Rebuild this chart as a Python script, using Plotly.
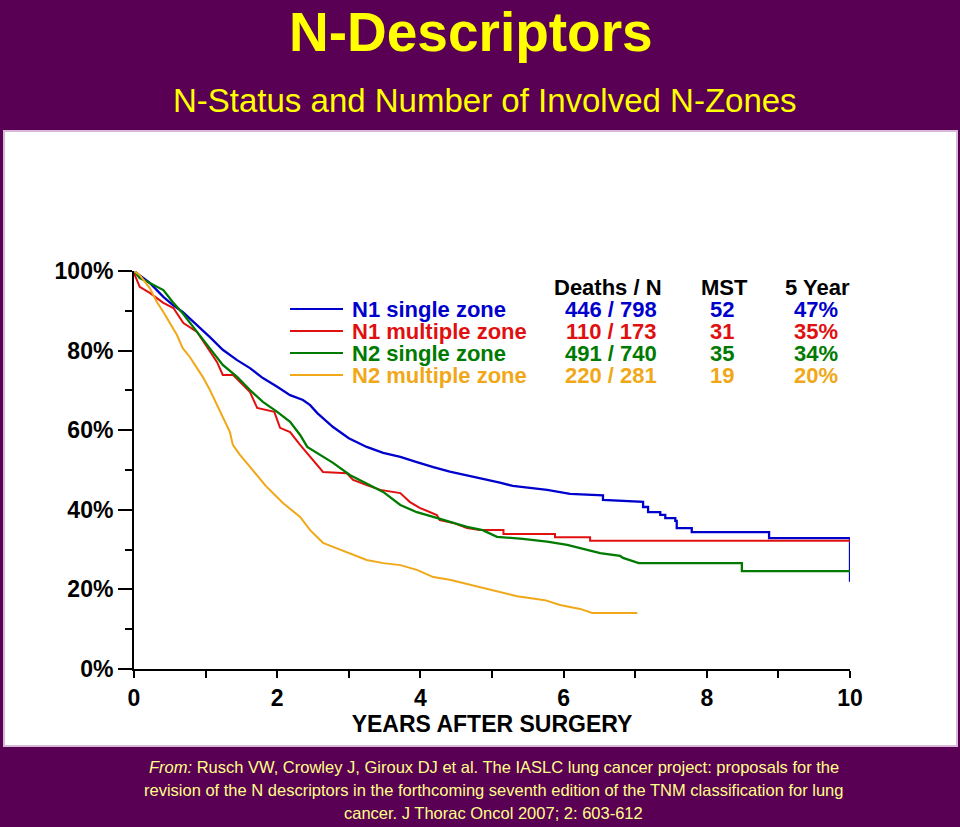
import plotly.graph_objects as go

# ---------------- data ----------------
years_n1_single = [0, 0.22, 0.41, 0.54, 0.68, 0.88, 1.06, 1.24, 1.44, 1.62, 1.80, 2.00, 2.18, 2.36, 2.46,
                   2.56, 2.78, 3.00, 3.25, 3.48, 3.72, 3.95, 4.18, 4.41, 4.65, 4.88, 5.11, 5.29, 5.50,
                   5.77, 6.09, 6.55, 6.55, 6.97, 7.11, 7.11, 7.18, 7.18, 7.35, 7.35, 7.42, 7.42, 7.56,
                   7.56, 7.58, 7.58, 7.79, 7.79, 8.87, 8.87, 10.0, 10.0]
surv_n1_single = [100, 97, 93.5, 91.5, 89.7, 86.5, 83.4, 80.2, 77.6, 75.6, 73.1, 70.9, 68.8, 67.6, 66.3,
                  64.3, 60.8, 58.0, 55.8, 54.3, 53.3, 52.0, 50.7, 49.6, 48.7, 47.8, 46.8, 46.0, 45.6,
                  45.0, 44.0, 43.6, 42.5, 42.0, 42.0, 40.7, 40.7, 39.4, 39.4, 38.7, 38.7, 37.9, 37.9,
                  37.2, 37.2, 35.4, 35.4, 34.4, 34.4, 32.9, 32.9, 21.9]

years_n1_multi = [0, 0.01, 0.08, 0.22, 0.41, 0.55, 0.69, 0.88, 1.02, 1.16, 1.24, 1.38, 1.52, 1.62, 1.72,
                  1.96, 2.04, 2.18, 2.32, 2.46, 2.64, 2.97, 3.06, 3.25, 3.44, 3.72, 3.85, 3.99, 4.23,
                  4.27, 4.46, 4.65, 4.83, 5.16, 5.16, 5.88, 5.88, 6.37, 6.37, 10.0]
surv_n1_multi = [100, 99, 96, 94.5, 92, 90.7, 86.9, 84.7, 80.9, 77.1, 73.9, 73.9, 71.4, 69.6, 65.6,
                 64.6, 60.6, 59.5, 56.3, 53.3, 49.5, 49.2, 47.5, 46.2, 45.0, 44.2, 42.0, 40.5, 38.7,
                 37.4, 36.7, 35.4, 34.9, 34.9, 33.9, 33.9, 33.1, 33.1, 32.2, 32.2]

years_n2_single = [0, 0.08, 0.22, 0.41, 0.54, 0.68, 0.88, 1.06, 1.24, 1.44, 1.62, 1.80, 2.00, 2.18, 2.32,
                   2.42, 2.60, 2.78, 3.02, 3.25, 3.48, 3.72, 3.95, 4.18, 4.41, 4.65, 4.87, 5.07, 5.43,
                   5.77, 6.05, 6.23, 6.51, 6.79, 6.83, 7.05, 8.49, 8.49, 10.0]
surv_n2_single = [100, 98.2, 97, 95.2, 92.2, 89.4, 84.7, 80.6, 76.4, 73.4, 70.1, 67.1, 64.6, 62.1, 58.8,
                  55.8, 53.8, 51.8, 48.7, 46.7, 44.5, 41.2, 39.4, 38.2, 36.9, 35.7, 34.9, 33.2, 32.7,
                  32.0, 31.2, 30.4, 29.1, 28.4, 27.9, 26.6, 26.6, 24.6, 24.6]

years_n2_multi = [0, 0.08, 0.22, 0.32, 0.41, 0.50, 0.60, 0.68, 0.78, 0.88, 0.96, 1.06, 1.16, 1.24, 1.34,
                  1.38, 1.48, 1.62, 1.84, 2.08, 2.32, 2.46, 2.64, 2.78, 3.02, 3.25, 3.48, 3.72, 3.95,
                  4.18, 4.41, 4.83, 5.11, 5.35, 5.74, 5.95, 6.23, 6.40, 7.03]
surv_n2_multi = [100, 99, 95.7, 92.2, 89.7, 86.9, 83.9, 80.6, 78.4, 75.6, 73.4, 70.1, 66.3, 63.1, 59.5,
                 56.3, 53.8, 50.8, 46.0, 41.7, 38.2, 34.9, 31.7, 30.7, 29.1, 27.4, 26.6, 26.1, 24.9,
                 23.1, 22.4, 20.6, 19.3, 18.3, 17.3, 16.1, 15.1, 14.1, 14.1]

series_names = ["N1 single zone", "N1 multiple zone", "N2 single zone", "N2 multiple zone"]
deaths_n = ["446 / 798", "110 / 173", "491 / 740", "220 / 281"]
mst = ["52", "31", "35", "19"]
five_year = ["47%", "35%", "34%", "20%"]
series_colors = ["#0000cc", "#e01010", "#007a00", "#f0a818"]

x_ticks = [0, 2, 4, 6, 8, 10]
x_tick_labels = ["0", "2", "4", "6", "8", "10"]
y_ticks = [0, 20, 40, 60, 80, 100]
y_tick_labels = ["0%", "20%", "40%", "60%", "80%", "100%"]

title = "N-Descriptors"
subtitle = "N-Status and Number of Involved N-Zones"
citation = [
    "<i>From:</i> Rusch VW, Crowley J, Giroux DJ et al. The IASLC lung cancer project: proposals for the",
    "revision of the N descriptors in the forthcoming seventh edition of the TNM classification for lung",
    "cancer. J Thorac Oncol 2007; 2: 603-612",
]

# ---------------- figure ----------------
W, H = 960, 827
def xp(px):
    return px / W
def yp(py):
    return 1 - py / H

PURPLE = "#5a0054"
FONT = "Liberation Sans, Arial, sans-serif"

fig = go.Figure()
all_x = [years_n1_single, years_n1_multi, years_n2_single, years_n2_multi]
all_y = [surv_n1_single, surv_n1_multi, surv_n2_single, surv_n2_multi]
widths = [2.3, 2, 2.3, 2]
for name, xs, ys, c, w in zip(series_names, all_x, all_y, series_colors, widths):
    fig.add_trace(go.Scatter(x=xs, y=ys, mode="lines", name=name,
                             line=dict(color=c, width=w),
                             cliponaxis=False, showlegend=False))

shapes = [dict(type="rect", xref="paper", yref="paper",
               x0=xp(4), x1=xp(957), y0=yp(746), y1=yp(131),
               fillcolor="white", line=dict(color="#d8b8d8", width=2), layer="below")]

annotations = [
    dict(text="<b>" + title + "</b>", x=xp(471), y=yp(32), font=dict(size=55, color="#ffff00", family=FONT)),
    dict(text=subtitle, x=xp(485), y=yp(101), font=dict(size=33, color="#ffff00", family=FONT)),
]
for i, line in enumerate(citation):
    annotations.append(dict(text=line, x=xp(494), y=yp(767 + 23 * i),
                            font=dict(size=16.5, color="#ffff88", family=FONT)))

# table header
hdr_y = 287
TS = 22
for txt, cx in [("Deaths / N", 608), ("MST", 724), ("5 Year", 817)]:
    annotations.append(dict(text="<b>" + txt + "</b>", x=xp(cx), y=yp(hdr_y),
                            font=dict(size=TS, color="black", family=FONT)))
row_y = [309, 331, 353, 375]
for i in range(4):
    c = series_colors[i]
    ry = row_y[i]
    shapes.append(dict(type="line", xref="paper", yref="paper", x0=xp(290), x1=xp(343),
                       y0=yp(ry), y1=yp(ry), line=dict(color=c, width=2)))
    annotations.append(dict(text="<b>" + series_names[i] + "</b>", x=xp(350), y=yp(ry), xanchor="left",
                            font=dict(size=TS, color=c, family=FONT)))
    annotations.append(dict(text="<b>" + deaths_n[i] + "</b>", x=xp(611), y=yp(ry),
                            font=dict(size=TS, color=c, family=FONT)))
    annotations.append(dict(text="<b>" + mst[i] + "</b>", x=xp(722), y=yp(ry),
                            font=dict(size=TS, color=c, family=FONT)))
    annotations.append(dict(text="<b>" + five_year[i] + "</b>", x=xp(816), y=yp(ry),
                            font=dict(size=TS, color=c, family=FONT)))

for a in annotations:
    a.setdefault("xref", "paper")
    a.setdefault("yref", "paper")
    a.setdefault("showarrow", False)
    a.setdefault("xanchor", "center")
    a.setdefault("yanchor", "middle")

fig.update_layout(
    width=W, height=H, autosize=False,
    margin=dict(l=0, r=0, t=0, b=0, pad=0),
    paper_bgcolor=PURPLE, plot_bgcolor="white",
    shapes=shapes, annotations=annotations,
    showlegend=False,
    xaxis=dict(domain=[xp(134), xp(850)], range=[0, 10], tickvals=x_ticks, ticktext=x_tick_labels,
               automargin=False,
               showgrid=False, zeroline=False, showline=True, linecolor="black", linewidth=2,
               ticks="outside", ticklen=7, tickwidth=2, tickcolor="black",
               minor=dict(dtick=1, ticks="outside", ticklen=7, tickwidth=2, tickcolor="black", showgrid=False),
               tickfont=dict(size=23, color="black", family=FONT, weight="bold"),
               title=dict(text="<b>YEARS AFTER SURGERY</b>", standoff=6,
                          font=dict(size=23, color="black", family=FONT))),
    yaxis=dict(domain=[yp(669), yp(271)], range=[0, 100], tickvals=y_ticks, ticktext=y_tick_labels,
               automargin=False,
               showgrid=False, zeroline=False, showline=True, linecolor="black", linewidth=2,
               ticks="outside", ticklen=14, tickwidth=2, tickcolor="black",
               minor=dict(dtick=10, ticks="outside", ticklen=7, tickwidth=2, tickcolor="black", showgrid=False),
               tickfont=dict(size=23, color="black", family=FONT, weight="bold")),
)

fig.write_html("out.html")
